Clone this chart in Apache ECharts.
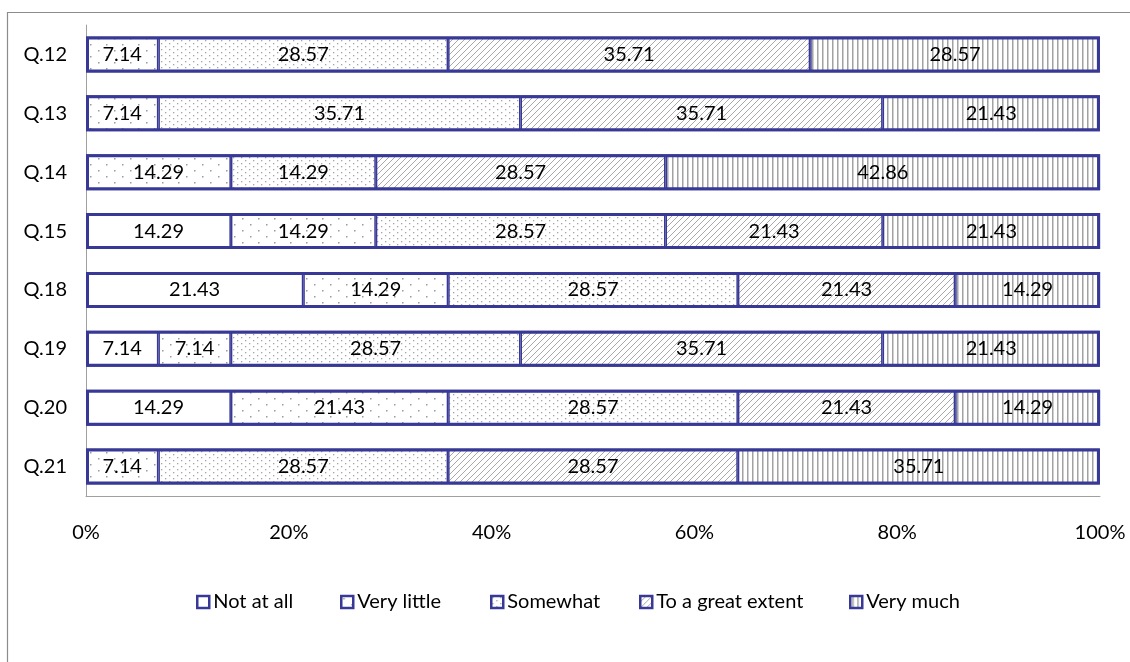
<!DOCTYPE html>
<html>
<head>
<meta charset="utf-8">
<script src="https://cdn.jsdelivr.net/npm/echarts@6/dist/echarts.min.js"></script>
<style>
  html, body { margin: 0; padding: 0; background: #fff; }
  #chart { width: 1130px; height: 662px; }
</style>
</head>
<body>
<div id="chart"></div>
<script>
// Survey responses per question, percent of respondents
const questions = ['Q.12', 'Q.13', 'Q.14', 'Q.15', 'Q.18', 'Q.19', 'Q.20', 'Q.21'];
const seriesNames = ['Not at all', 'Very little', 'Somewhat', 'To a great extent', 'Very much'];
const notAtAll    = [0,     0,     0,     14.29, 21.43, 7.14,  14.29, 0];
const veryLittle  = [7.14,  7.14,  14.29, 14.29, 14.29, 7.14,  21.43, 7.14];
const somewhat    = [28.57, 35.71, 14.29, 28.57, 28.57, 28.57, 28.57, 28.57];
const greatExtent = [35.71, 35.71, 28.57, 21.43, 21.43, 35.71, 21.43, 28.57];
const veryMuch    = [28.57, 21.43, 42.86, 21.43, 14.29, 21.43, 14.29, 35.71];
const xTicks = [0, 20, 40, 60, 80, 100];

const FONT = 'Lato, "Open Sans", sans-serif';
const EDGE = '#383896';
const FS = 20;

// Fill patterns drawn on small canvases
function makePattern(w, h, draw) {
  const c = document.createElement('canvas');
  c.width = w; c.height = h;
  const ctx = c.getContext('2d');
  ctx.fillStyle = '#ffffff';
  ctx.fillRect(0, 0, w, h);
  draw(ctx);
  return { image: c, repeat: 'repeat' };
}
const sparseDots = makePattern(16, 12, ctx => {
  ctx.fillStyle = '#9a9a9a';
  ctx.fillRect(2, 2, 1.5, 1.5);
  ctx.fillRect(10, 8, 1.5, 1.5);
});
const denseDots = makePattern(8, 6, ctx => {
  ctx.fillStyle = '#a4a4a4';
  ctx.fillRect(1, 1, 1.3, 1.3);
  ctx.fillRect(5, 4, 1.3, 1.3);
});
const diagonal = makePattern(6, 6, ctx => {
  ctx.strokeStyle = '#a8a8a8';
  ctx.lineWidth = 1;
  for (let k = -6; k <= 12; k += 6) {
    ctx.beginPath();
    ctx.moveTo(k, 6);
    ctx.lineTo(k + 6, 0);
    ctx.stroke();
  }
});
const vertical = makePattern(5, 4, ctx => {
  ctx.fillStyle = '#a2a2a2';
  ctx.fillRect(2, 0, 1.5, 4);
});

const fills = ['#ffffff', sparseDots, denseDots, diagonal, vertical];
const values = [notAtAll, veryLittle, somewhat, greatExtent, veryMuch];
const BAR_W = 36;

// Segments: half-width borders drawn inside each rect, so neighbours meet in one line
const series = seriesNames.map((name, i) => ({
  name: name,
  type: 'bar',
  stack: 'total',
  barWidth: BAR_W,
  barGap: '-100%',
  data: values[i].map(v => (v === 0 ? '-' : v)),
  itemStyle: { color: fills[i], borderColor: EDGE, borderWidth: 1.5 },
  label: {
    show: true,
    position: 'inside',
    color: '#000',
    fontFamily: FONT,
    fontSize: FS,
    formatter: p => (typeof p.value === 'number' ? p.value.toFixed(2) : '')
  },
  emphasis: { disabled: true }
}));

// Outer frame around each full bar
const rowTotals = questions.map((q, r) => values.reduce((s, arr) => s + arr[r], 0));
series.push({
  name: 'frame',
  type: 'bar',
  stack: 'frame',
  barWidth: BAR_W,
  barGap: '-100%',
  silent: true,
  z: 3,
  data: rowTotals,
  itemStyle: { color: 'rgba(0,0,0,0)', borderColor: EDGE, borderWidth: 3 },
  label: { show: false },
  emphasis: { disabled: true }
});

// One legend block per entry so each can be placed on its own
const legendLeft = [191, 335, 485, 634, 844];
const legends = seriesNames.map((name, i) => ({
  data: [name],
  left: legendLeft[i],
  top: 587,
  itemWidth: 12,
  itemHeight: 12,
  itemGap: 0,
  icon: 'rect',
  selectedMode: false,
  itemStyle: { borderWidth: 2.5, borderColor: EDGE },
  textStyle: { color: '#000', fontSize: FS, fontFamily: FONT, padding: [0, 0, 0, -1] }
}));

const chart = echarts.init(document.getElementById('chart'), null, { renderer: 'canvas' });
chart.setOption({
  animation: false,
  backgroundColor: '#ffffff',
  textStyle: { fontFamily: FONT },
  grid: { left: 86, right: 30, top: 25, bottom: 166, containLabel: false },
  xAxis: {
    type: 'value',
    min: xTicks[0],
    max: xTicks[xTicks.length - 1],
    interval: 20,
    axisLine: { show: true, lineStyle: { color: '#a0a0a0', width: 1 } },
    axisTick: { show: false },
    splitLine: { show: false },
    axisLabel: {
      margin: 27,
      color: '#000',
      fontSize: FS,
      fontFamily: FONT,
      formatter: v => (xTicks.includes(v) ? v + '%' : '')
    }
  },
  yAxis: {
    type: 'category',
    inverse: true,
    data: questions,
    axisLine: { show: true, lineStyle: { color: '#a0a0a0', width: 1 } },
    axisTick: { show: false },
    axisLabel: { margin: 19, color: '#000', fontSize: FS, fontFamily: FONT }
  },
  legend: legends,
  graphic: [{
    type: 'rect',
    shape: { x: 7.5, y: 12.5, width: 1200, height: 700 },
    style: { fill: 'none', stroke: '#8c8c8c', lineWidth: 1.2 },
    silent: true,
    z: -1
  }],
  series: series
});
</script>
</body>
</html>
